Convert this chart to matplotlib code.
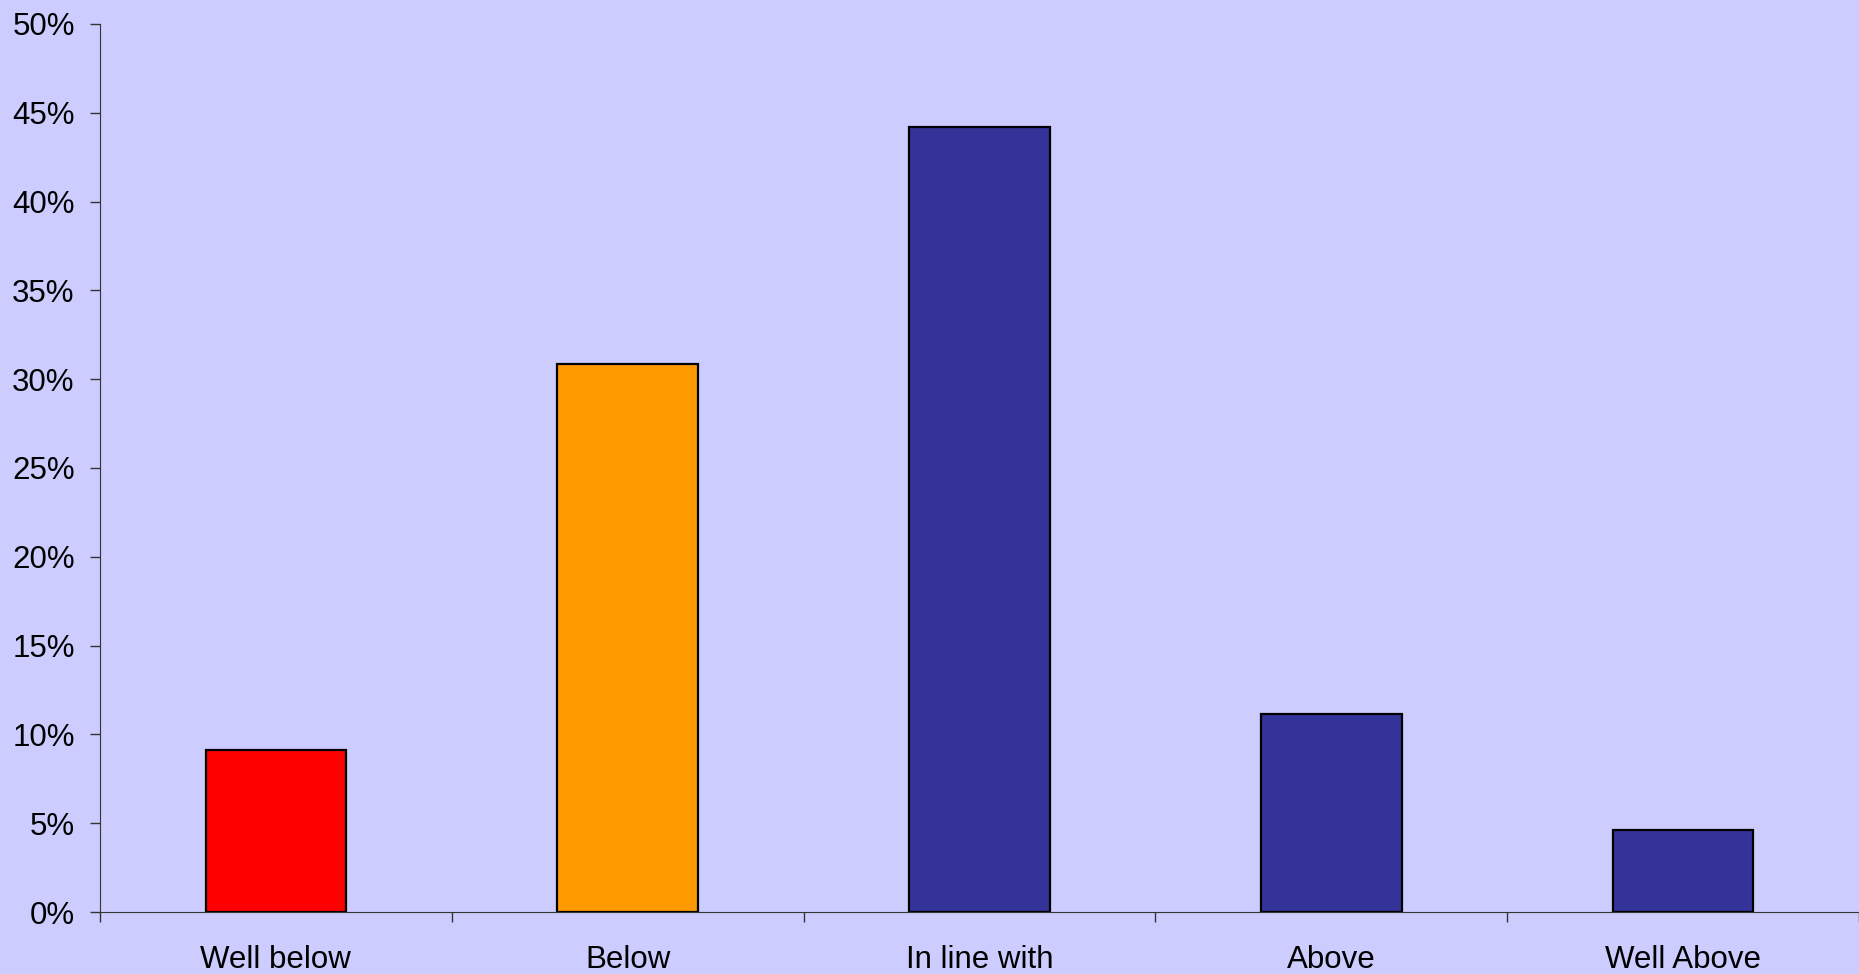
import numpy as np
import matplotlib.pyplot as plt
from matplotlib.ticker import FixedLocator

categories = ['Well below', 'Below', 'In line with', 'Above', 'Well Above']
values = [9.1, 30.85, 44.2, 11.15, 4.6]
colors = ['#FF0000', '#FF9900', '#333399', '#333399', '#333399']
bg = '#CCCCFF'

plt.rcParams['font.family'] = ['Liberation Sans', 'DejaVu Sans']

fig = plt.figure(figsize=(18.59, 9.74), dpi=100, facecolor=bg)
ax = fig.add_axes([100/1859., 62/974., 1 - 100/1859., (912-24)/974.])
ax.set_facecolor(bg)

x = np.arange(len(categories))
ax.bar(x, values, width=0.4, color=colors, edgecolor='black', linewidth=1.6, zorder=3)

ax.set_xlim(-0.5, len(categories) - 0.5)
ax.set_ylim(0, 50)
ax.set_yticks(np.arange(0, 51, 5))
ax.set_yticklabels(['%d%%' % v for v in np.arange(0, 51, 5)], fontsize=22.5)
ax.set_xticks(x)
ax.set_xticklabels(categories, fontsize=22.5)
ax.xaxis.set_minor_locator(FixedLocator(np.arange(-0.5, len(categories), 1.0)))
ax.tick_params(axis='x', which='major', length=0, pad=24)
ax.tick_params(axis='x', which='minor', length=7.2, width=1, color='#333333')
ax.tick_params(axis='y', length=7.2, width=1, color='#333333', pad=11)

for s in ['top', 'right']:
    ax.spines[s].set_visible(False)
ax.spines['left'].set_color('#333333')
ax.spines['bottom'].set_color('#333333')

fig.savefig('out.png', dpi=100, facecolor=bg)
